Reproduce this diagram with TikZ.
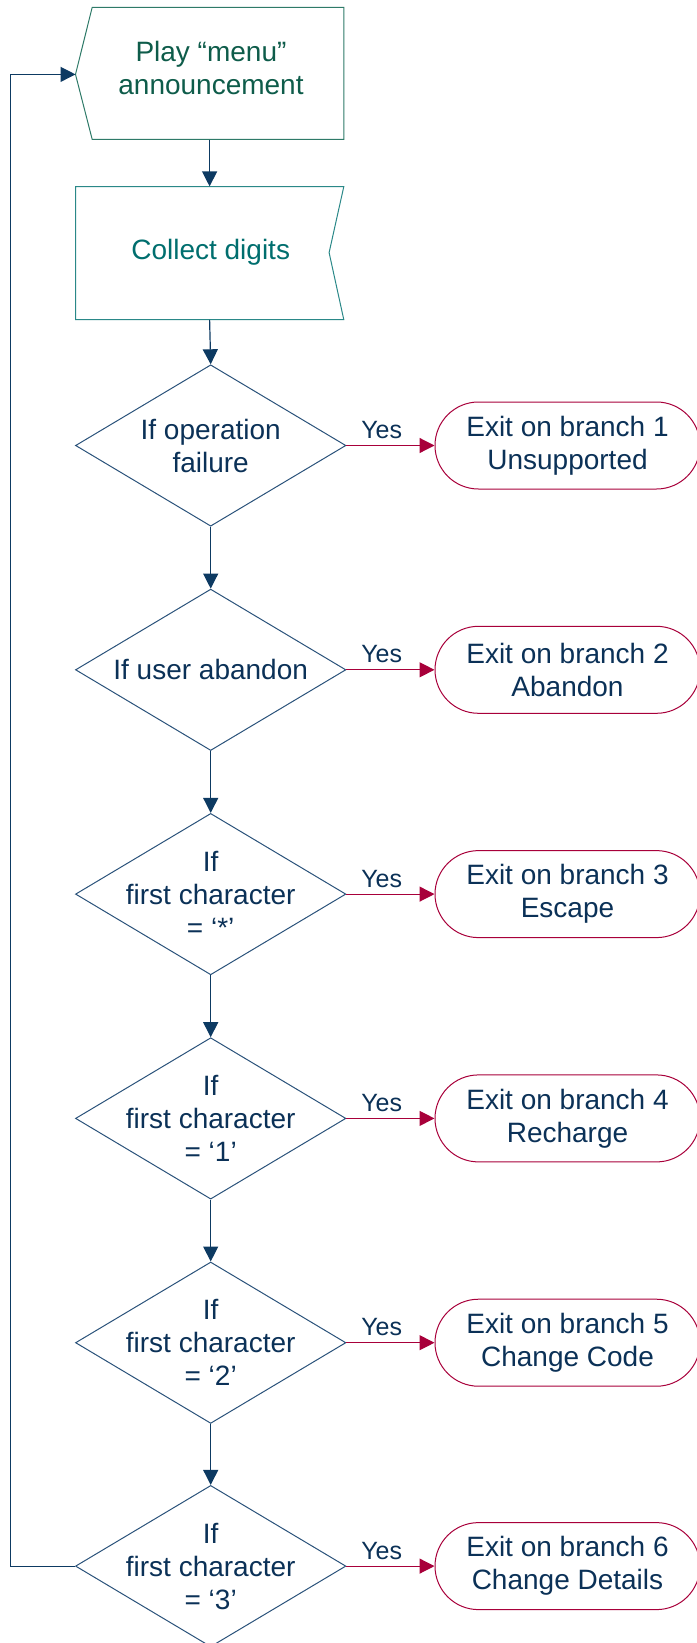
\documentclass[tikz,border=0pt]{standalone}
\usepackage{fontspec}
\setmainfont{Liberation Sans}
\usetikzlibrary{shapes.geometric,arrows.meta}
\definecolor{navy}{HTML}{0D3A62}
\definecolor{dnavy}{HTML}{0B3157}
\definecolor{diab}{HTML}{2A527A}
\definecolor{crim}{HTML}{A8003A}
\definecolor{pgreen}{HTML}{0E5C4A}
\definecolor{pgline}{HTML}{2E7A68}
\definecolor{cteal}{HTML}{006E6E}
\definecolor{ctline}{HTML}{2A8888}
\begin{document}
\begin{tikzpicture}[x=1pt,y=-1pt,
  every node/.style={font=\fontsize{28}{33}\selectfont, align=center, inner sep=0pt, text=dnavy},
  dia/.style={diamond, draw=diab, line width=1pt, minimum width=270.4pt, minimum height=161.4pt},
  term/.style={rectangle, rounded corners=43.5pt, draw=crim, line width=1pt, minimum width=265pt, minimum height=87pt},
  nav/.style={draw=navy, line width=1.2pt, -{Triangle[length=15pt,width=15pt]}},
  redarr/.style={draw=crim, line width=1.2pt, -{Triangle[length=15pt,width=15pt]}},
  yeslbl/.style={font=\fontsize{25}{28}\selectfont},
  ghost/.style={rectangle, draw=none}]
\useasboundingbox (0,0) rectangle (696,1643);
% Play announcement shape
\draw[draw=pgline, line width=1pt] (92.2,7.3) -- (343.8,7.3) -- (343.8,139.4) -- (92.2,139.4) -- (75.5,74.4) -- cycle;
\node[ghost, minimum width=268pt, minimum height=132pt] (play) at (209.6,73.4) {};
\node[text=pgreen] (playtxt) at (211,68) {Play “menu”\\announcement};
\coordinate (playtip) at (75.5,74.4);
% Collect digits shape
\draw[draw=ctline, line width=1pt] (75.5,186.6) -- (343.8,186.6) -- (329.1,252.6) -- (343.8,319.7) -- (75.5,319.7) -- cycle;
\node[ghost, minimum width=268pt, minimum height=133pt] (collect) at (209.6,253.1) {};
\node[text=cteal] (coltxt) at (210.7,252.6) {Collect digits};
% diamonds
\node[dia] (d1) at (210.7,445.5) {};
\node[dia] (d2) at (210.7,669.8) {};
\node[dia] (d3) at (210.7,894.1) {};
\node[dia] (d4) at (210.7,1118.4) {};
\node[dia] (d5) at (210.7,1342.7) {};
\node[dia] (d6) at (210.7,1566.1) {};
\node (t1) at (d1) {If operation\\failure};
\node (t2) at (d2) {If user abandon};
\node (t3) at (d3) {If\\first character\\= ‘*’};
\node (t4) at (d4) {If\\first character\\= ‘1’};
\node (t5) at (d5) {If\\first character\\= ‘2’};
\node (t6) at (d6) {If\\first character\\= ‘3’};
% terminals
\node[term] (e1) at (567.5,445.5) {Exit on branch 1\\Unsupported};
\node[term] (e2) at (567.5,669.8) {Exit on branch 2\\Abandon};
\node[term] (e3) at (567.5,894.1) {Exit on branch 3\\Escape};
\node[term] (e4) at (567.5,1118.4) {Exit on branch 4\\Recharge};
\node[term] (e5) at (567.5,1342.7) {Exit on branch 5\\Change Code};
\node[term] (e6) at (567.5,1566.1) {Exit on branch 6\\Change Details};
% vertical flow
\draw[nav] (play.south) -- (collect.north);
\draw[nav] (collect.south) -- (d1.north);
\draw[nav] (d1.south) -- (d2.north);
\draw[nav] (d2.south) -- (d3.north);
\draw[nav] (d3.south) -- (d4.north);
\draw[nav] (d4.south) -- (d5.north);
\draw[nav] (d5.south) -- (d6.north);
% loop back
\coordinate (lb) at (10.5,1566.1);
\coordinate (lt) at (10.5,74.4);
\draw[nav] (d6.west) -- (lb) -- (lt) -- (playtip);
% yes branches
\foreach \i in {1,...,6}{
  \draw[redarr] (d\i.east) -- (e\i.west) node[yeslbl, pos=0.4, above=6pt] (y\i) {Yes};
}
\end{tikzpicture}
\end{document}
